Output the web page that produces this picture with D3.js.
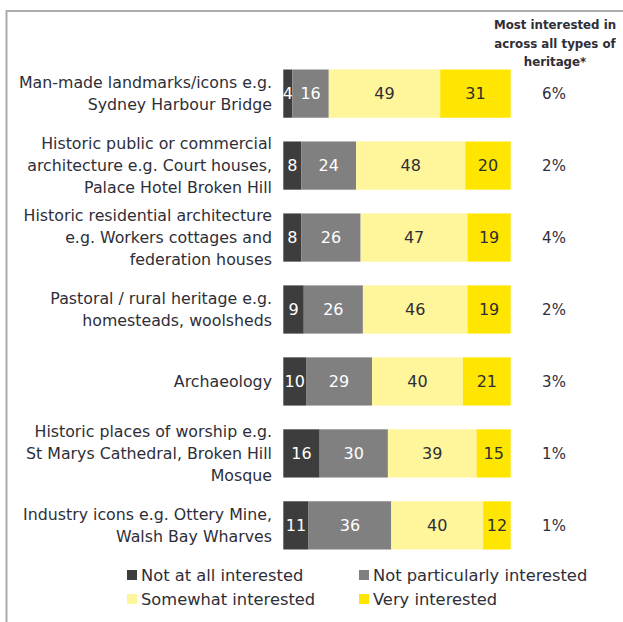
<!DOCTYPE html>
<html>
<head>
<meta charset="utf-8">
<script src="https://cdn.jsdelivr.net/npm/d3@7"></script>
<style>
  html, body { margin: 0; padding: 0; background: #fff; }
  svg { display: block; }
  text { font-family: "DejaVu Sans", "Open Sans", sans-serif; }
</style>
</head>
<body>
<svg id="chart" width="623" height="622"></svg>
<script>
// Heritage types (each entry is a list of label lines)
const categories = [
  ["Man-made landmarks/icons e.g.", "Sydney Harbour Bridge"],
  ["Historic public or commercial", "architecture e.g. Court houses,", "Palace Hotel Broken Hill"],
  ["Historic residential architecture", "e.g. Workers cottages and", "federation houses"],
  ["Pastoral / rural heritage e.g.", "homesteads, woolsheds"],
  ["Archaeology"],
  ["Historic places of worship e.g.", "St Marys Cathedral, Broken Hill", "Mosque"],
  ["Industry icons e.g. Ottery Mine,", "Walsh Bay Wharves"]
];

const seriesNames = ["Not at all interested", "Not particularly interested", "Somewhat interested", "Very interested"];

const notAtAll        = [4, 8, 8, 9, 10, 16, 11];
const notParticularly = [16, 24, 26, 26, 29, 30, 36];
const somewhat        = [49, 48, 47, 46, 40, 39, 40];
const very            = [31, 20, 19, 19, 21, 15, 12];

// Share naming each type as most interesting across all types
const mostInterested = ["6%", "2%", "4%", "2%", "3%", "1%", "1%"];

const headerLines = ["Most interested in", "across all types of", "heritage*"];

const colors = ["#3d3d3d", "#808080", "#fff59b", "#ffe600"];
const textColors = ["#ffffff", "#ffffff", "#2e2e38", "#2e2e38"];

const rows = categories.map((c, i) => ({
  idx: i,
  [seriesNames[0]]: notAtAll[i],
  [seriesNames[1]]: notParticularly[i],
  [seriesNames[2]]: somewhat[i],
  [seriesNames[3]]: very[i]
}));

const svg = d3.select("#chart");

// frame lines on the top and left
svg.append("line").attr("x1", 6.5).attr("x2", 623).attr("y1", 11).attr("y2", 11)
  .attr("stroke", "#ababab").attr("stroke-width", 2);
svg.append("line").attr("x1", 6.5).attr("x2", 6.5).attr("y1", 10).attr("y2", 622)
  .attr("stroke", "#ababab").attr("stroke-width", 2);

const x = d3.scaleLinear().domain([0, 1]).range([283.3, 510.7]);
const y = d3.scaleBand().domain(d3.range(categories.length)).range([58, 561]).paddingInner(0.33).paddingOuter(0.16);

const stack = d3.stack().keys(seriesNames).offset(d3.stackOffsetExpand);
const stacked = stack(rows);

const g = svg.append("g");
stacked.forEach((layer, si) => {
  const lg = g.append("g");
  lg.selectAll("rect").data(layer).join("rect")
    .attr("x", d => x(d[0]))
    .attr("y", d => y(d.data.idx))
    .attr("width", d => x(d[1]) - x(d[0]))
    .attr("height", y.bandwidth())
    .attr("fill", colors[si]);
  lg.selectAll("text").data(layer).join("text")
    .attr("x", d => (x(d[0]) + x(d[1])) / 2)
    .attr("y", d => y(d.data.idx) + y.bandwidth() / 2)
    .attr("dy", "0.36em")
    .attr("text-anchor", "middle")
    .attr("font-size", 16)
    .attr("fill", textColors[si])
    .text(d => d.data[seriesNames[si]]);
});

// category labels
const lineH = 22;
const labels = svg.append("g");
categories.forEach((lines, i) => {
  const cy = y(i) + y.bandwidth() / 2;
  const t = labels.append("text")
    .attr("text-anchor", "end")
    .attr("font-size", 15.8)
    .attr("fill", "#2e2e38");
  lines.forEach((ln, k) => {
    t.append("tspan")
      .attr("x", 272)
      .attr("y", cy + (k - (lines.length - 1) / 2) * lineH)
      .attr("dy", "0.36em")
      .text(ln);
  });
});

// right-hand column
svg.append("g").selectAll("text").data(mostInterested).join("text")
  .attr("x", 554)
  .attr("y", (d, i) => y(i) + y.bandwidth() / 2)
  .attr("dy", "0.36em")
  .attr("text-anchor", "middle")
  .attr("font-size", 15)
  .attr("fill", "#2e2e38")
  .text(d => d);

svg.append("g").selectAll("text").data(headerLines).join("text")
  .attr("x", 555)
  .attr("y", (d, i) => 25 + i * 18.5)
  .attr("dy", "0.36em")
  .attr("text-anchor", "middle")
  .attr("font-size", 11.8)
  .attr("font-weight", "bold")
  .attr("fill", "#2e2e38")
  .text(d => d);

// legend
const legendPos = [[127, 575], [359, 575], [127, 599], [359, 599]];
const legend = svg.append("g").selectAll("g").data(seriesNames).join("g")
  .attr("transform", (d, i) => `translate(${legendPos[i][0]},${legendPos[i][1]})`);
legend.append("rect").attr("x", 0).attr("y", -5).attr("width", 10).attr("height", 10)
  .attr("fill", (d, i) => colors[i]);
legend.append("text").attr("x", 14).attr("y", 0).attr("dy", "0.36em")
  .attr("font-size", 16.3).attr("fill", "#2e2e38").text(d => d);
</script>
</body>
</html>
